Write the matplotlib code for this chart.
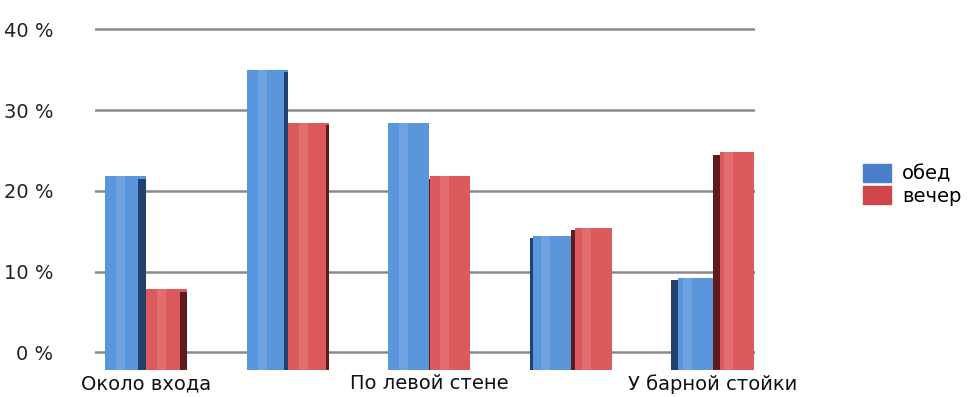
import numpy as np
import matplotlib.pyplot as plt
from matplotlib.patches import Patch

# --- data ---
categories = ['Около входа', '', 'По левой стене', '', 'У барной стойки']
lunch = [21.8, 35.0, 28.4, 14.4, 9.2]     # обед
evening = [7.8, 28.4, 21.8, 15.4, 24.8]   # вечер
series_names = ['обед', 'вечер']
yticks = [0, 10, 20, 30, 40]

blue, blue_dark = '#5a96dc', '#22406c'
red, red_dark = '#dd5a5c', '#5e1c1e'
floor = -2.2   # 3D floor sits a bit under the 0 line

fig = plt.figure(figsize=(9.78, 3.97), dpi=100)
ax = fig.add_axes([95 / 978, 27 / 397, 660 / 978, 343 / 397])

x = np.arange(len(categories))
w = 0.29
pivot = 2.0

for yv in yticks:
    ax.axhline(yv, color='#8a8a8a', lw=1.8, zorder=0)

def bar3d(xc, val, color, dark):
    side = 0.055 * abs(xc - pivot) / 2.2
    left = xc - w / 2
    h = val - floor
    if xc < pivot:
        ax.bar(left, h, side + w - side, bottom=floor, align='edge', color=color, zorder=2)
        ax.bar(left + w - side, h - 0.3, side, bottom=floor, align='edge', color=dark, zorder=2)
    else:
        ax.bar(left, h - 0.3, side, bottom=floor, align='edge', color=dark, zorder=2)
        ax.bar(left + side, h, w - side, bottom=floor, align='edge', color=color, zorder=2)
    # soft highlight down the front face
    ax.bar(xc - w * 0.12, h, w * 0.22, bottom=floor, color='white', alpha=0.12,
           lw=0, zorder=3)

for i in range(len(categories)):
    bar3d(x[i] - 0.145, lunch[i], blue, blue_dark)
    bar3d(x[i] + 0.145, evening[i], red, red_dark)

ax.set_xlim(-0.36, 4.3)
ax.set_ylim(floor, 40.3)
ax.set_yticks(yticks)
ax.set_yticklabels([f'{v} %' for v in yticks], fontsize=14, color='#222222')
ax.set_xticks(x)
ax.set_xticklabels(categories, fontsize=14, color='#111111')
ax.tick_params(length=0)
ax.tick_params(axis='y', pad=30)
ax.tick_params(axis='x', pad=3)
for s in ax.spines.values():
    s.set_visible(False)

handles = [Patch(color='#4a7ec9', label=series_names[0]),
           Patch(color='#d0474b', label=series_names[1])]
fig.legend(handles=handles, loc='center left', bbox_to_anchor=(0.865, 0.535),
           frameon=False, fontsize=14, handlelength=1.4, handleheight=1.1,
           handletextpad=0.6, labelspacing=0.1)

fig.savefig('out.png', dpi=100)
